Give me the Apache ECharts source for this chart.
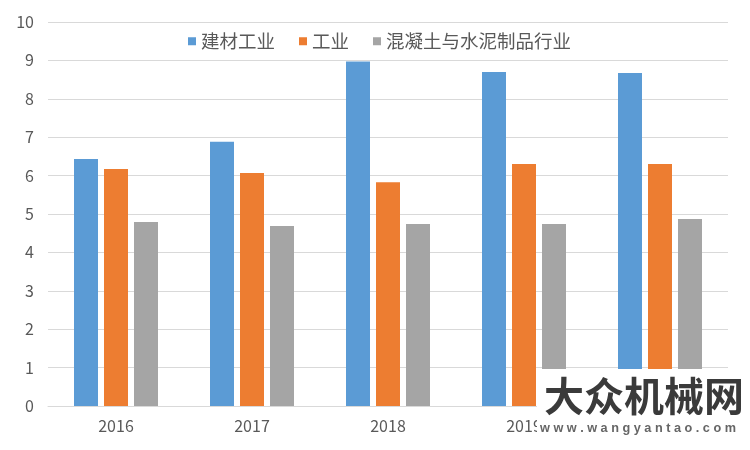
<!DOCTYPE html>
<html><head><meta charset="utf-8">
<script src="https://cdn.jsdelivr.net/npm/echarts@6/dist/echarts.min.js"></script>
<style>html,body{margin:0;padding:0;background:#fff}#c{width:750px;height:450px}</style>
</head><body><div id="c"></div>
<script>
const categories = ['2016', '2017', '2018', '2019', '2020'];
const seriesNames = ['建材工业', '工业', '混凝土与水泥制品行业'];
const jiancai = [6.43, 6.88, 8.97, 8.70, 8.67];
const gongye = [6.17, 6.07, 5.83, 6.30, 6.30];
const hunningtu = [4.79, 4.69, 4.74, 4.74, 4.87];
const colors = ['#5b9bd5', '#ed7d31', '#a5a5a5'];
const FONT = '"Noto Sans CJK SC", "Noto Sans", sans-serif';

const chart = echarts.init(document.getElementById('c'), null, {renderer: 'canvas'});
chart.setOption({
  animation: false,
  backgroundColor: '#fff',
  color: colors,
  textStyle: {fontFamily: FONT},
  legend: {
    top: 27, left: 183,
    icon: 'rect', itemWidth: 8, itemHeight: 8, itemGap: 24,
    textStyle: {fontSize: 18.5, color: '#595959', fontFamily: FONT},
    data: seriesNames
  },
  grid: {left: 48, right: 22, top: 22, bottom: 44},
  xAxis: {
    type: 'category', data: categories,
    axisLine: {lineStyle: {color: '#d9d9d9'}},
    axisTick: {show: false},
    axisLabel: {color: '#595959', fontSize: 16, margin: 12, fontFamily: FONT}
  },
  yAxis: {
    type: 'value', min: 0, max: 10, interval: 1,
    axisLine: {show: false}, axisTick: {show: false},
    splitLine: {lineStyle: {color: '#d9d9d9'}},
    axisLabel: {color: '#595959', fontSize: 16, margin: 14, fontFamily: FONT}
  },
  series: [
    {name: seriesNames[0], type: 'bar', data: jiancai, barWidth: 24, barGap: '25%'},
    {name: seriesNames[1], type: 'bar', data: gongye, barWidth: 24, barGap: '25%'},
    {name: seriesNames[2], type: 'bar', data: hunningtu, barWidth: 24, barGap: '25%'}
  ],
  graphic: [
    {type: 'rect', left: 537, top: 369, shape: {width: 213, height: 81}, style: {fill: '#fff'}, z: 100},
    {type: 'text', left: 544, top: 376, z: 101,
      style: {text: '大众机械网', font: 'bold 40px "Noto Sans CJK SC"', fill: '#3a3a3a'}},
    {type: 'text', left: 540, top: 422, z: 101,
      style: {text: 'w w w . w a n g y a n t a o . c o m', font: 'bold 12.7px "Liberation Sans"', fill: '#666'}}
  ]
});
</script></body></html>
